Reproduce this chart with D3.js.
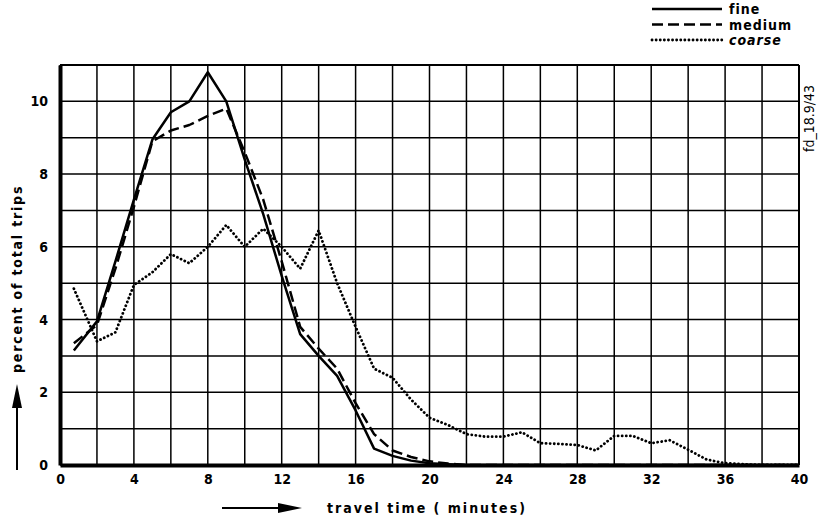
<!DOCTYPE html>
<html><head><meta charset="utf-8">
<script src="https://cdn.jsdelivr.net/npm/d3@7"></script>
<style>
body{margin:0;background:#fff;}
svg text{font-family:"DejaVu Sans Condensed","DejaVu Sans",sans-serif;font-weight:bold;fill:#000;}
</style></head>
<body><svg id="c" width="819" height="521"></svg>
<script>
// travel time (minutes) at which each value is plotted
const travelTime = [0.75,2,3,4,5,6,7,8,9,10,11,12,13,14,15,16,17,18,19,20,21,22,23,24,25,26,27,28,29,30,31,32,33,34,35,36,37,38,39,40];
const fine   = [3.15,3.95,5.6,7.3,8.95,9.7,10.0,10.8,10.0,8.4,6.9,5.2,3.6,3.0,2.45,1.5,0.45,0.25,0.12,0.05,0.02,0,0,0,0,0,0,0,0,0,0,0,0,0,0,0,0,0,0,0];
const medium = [3.35,3.85,5.4,7.1,8.9,9.2,9.35,9.6,9.8,8.6,7.3,5.6,3.8,3.2,2.65,1.7,0.85,0.4,0.22,0.1,0.04,0,0,0,0,0,0,0,0,0,0,0,0,0,0,0,0,0,0,0];
const coarse = [4.85,3.4,3.65,4.95,5.3,5.8,5.55,6.0,6.6,6.0,6.5,6.0,5.4,6.45,5.0,3.8,2.65,2.4,1.8,1.3,1.1,0.85,0.78,0.78,0.9,0.6,0.58,0.55,0.4,0.8,0.8,0.6,0.68,0.42,0.15,0.05,0.02,0,0,0];
const seriesNames = ["fine","medium","coarse"];
const xTickLabels = [0,4,8,12,16,20,24,28,32,36,40];
const yTickLabels = [0,2,4,6,8,10];
const xGrid = d3.range(0,41,2);
const yGrid = d3.range(0,12,1);

const svg = d3.select("#c");
const x = d3.scaleLinear().domain([0,40]).range([60,799]);
const y = d3.scaleLinear().domain([0,11]).range([465,65]);

// grid
svg.append("g").selectAll("line").data(xGrid).join("line")
  .attr("x1",d=>x(d)).attr("x2",d=>x(d)).attr("y1",y(0)).attr("y2",y(11))
  .attr("stroke","#000").attr("stroke-width",1.5);
svg.append("g").selectAll("line").data(yGrid).join("line")
  .attr("x1",x(0)).attr("x2",x(40)).attr("y1",d=>y(d)).attr("y2",d=>y(d))
  .attr("stroke","#000").attr("stroke-width",1.5);
// frame
svg.append("line").attr("x1",x(0)).attr("x2",x(40)).attr("y1",y(11)).attr("y2",y(11)).attr("stroke","#000").attr("stroke-width",2);
svg.append("line").attr("x1",x(40)).attr("x2",x(40)).attr("y1",y(0)).attr("y2",y(11)).attr("stroke","#000").attr("stroke-width",2);

// axes
const xAxis = d3.axisBottom(x).tickValues(xTickLabels).tickSize(0).tickPadding(9).tickFormat(d3.format("d"));
const gx = svg.append("g").attr("transform",`translate(0,${y(0)})`).call(xAxis);
gx.select(".domain").attr("stroke","#000").attr("stroke-width",4);
gx.selectAll("text").style("font-size","14px").attr("font-family",null);
const yAxis = d3.axisLeft(y).tickValues(yTickLabels).tickSize(0).tickPadding(12).tickFormat(d3.format("d"));
const gy = svg.append("g").attr("transform",`translate(${x(0)},0)`).call(yAxis);
gy.select(".domain").attr("stroke","#000").attr("stroke-width",4);
gy.selectAll("text").style("font-size","14px").attr("font-family",null);

// series
const styles = {
  fine:{dash:null,w:2.5,cap:"butt"},
  medium:{dash:"11,5",w:2.5,cap:"butt"},
  coarse:{dash:"0.1,4",w:2.8,cap:"round"}
};
const data = {fine, medium, coarse};
const line = d3.line().x((d,i)=>x(travelTime[i])).y(d=>y(d));
seriesNames.forEach(n=>{
  svg.append("path").datum(data[n]).attr("d",line)
    .attr("fill","none").attr("stroke","#000")
    .attr("stroke-width",styles[n].w).attr("stroke-linecap",styles[n].cap)
    .attr("stroke-linejoin","round")
    .attr("stroke-dasharray",styles[n].dash);
});

// legend
const lg = svg.append("g");
seriesNames.forEach((n,i)=>{
  const yy = 9 + i*15.5;
  lg.append("line").attr("x1",652).attr("x2",722).attr("y1",yy).attr("y2",yy)
    .attr("stroke","#000").attr("stroke-width",styles[n].w).attr("stroke-linecap",styles[n].cap)
    .attr("stroke-dasharray",styles[n].dash);
  lg.append("text").attr("x",729).attr("y",yy+5).text(n)
    .style("font-size","14px").style("letter-spacing","1px")
    .style("font-style", n==="coarse"?"italic":"normal");
});

// axis titles
svg.append("text").attr("x",327).attr("y",513).text("travel time ( minutes)")
  .style("font-size","14px").style("letter-spacing","2px");
svg.append("text").attr("transform","translate(22,373) rotate(-90)").text("percent of total trips")
  .style("font-size","14px").style("letter-spacing","1.8px");

// arrows
svg.append("line").attr("x1",222).attr("x2",290).attr("y1",508).attr("y2",508)
  .attr("stroke","#000").attr("stroke-width",2);
svg.append("path").attr("d","M278,503 L302,508 L278,513 Z").attr("fill","#000");
svg.append("line").attr("x1",17).attr("x2",17).attr("y1",470).attr("y2",395)
  .attr("stroke","#000").attr("stroke-width",2);
svg.append("path").attr("d","M12,408 L17,384 L22,408 Z").attr("fill","#000");

// side code
svg.append("text").attr("transform","translate(814,152) rotate(-90)").text("fd_18.9/43")
  .style("font-size","14px").style("font-weight","normal");
</script></body></html>
